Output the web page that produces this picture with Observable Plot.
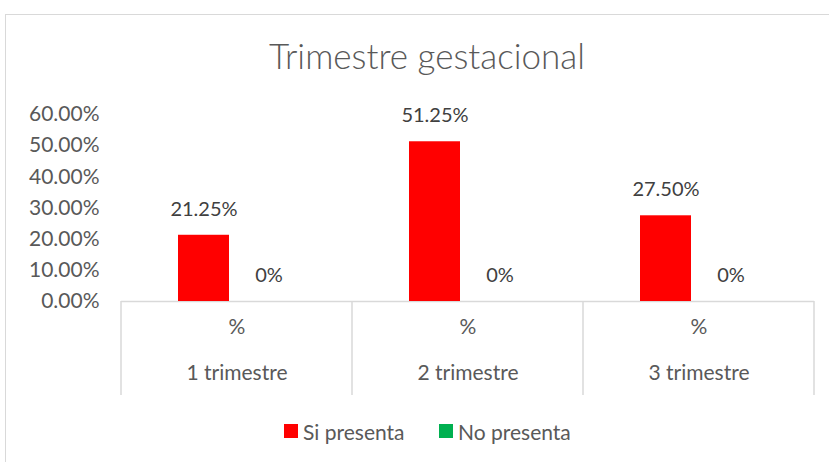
<!DOCTYPE html>
<html>
<head>
<meta charset="utf-8">
<script src="https://cdn.jsdelivr.net/npm/d3@7"></script>
<script src="https://cdn.jsdelivr.net/npm/@observablehq/plot@0.6"></script>
<style>
  html, body { margin: 0; padding: 0; background: #fff; }
  #wrap { position: relative; width: 829px; height: 462px; overflow: hidden; font-family: Lato, "Open Sans", sans-serif; color: #595959; }
  #frame { position: absolute; left: 5px; top: 14px; width: 830px; height: 470px; border: 1px solid #d9d9d9; box-sizing: border-box; }
  #title { position: absolute; left: 0; width: 854px; top: 34px; text-align: center; font-size: 35px; font-weight: 300; color: #595959; white-space: nowrap; }
  #chart { position: absolute; left: 0; top: 95px; }
  #legend { position: absolute; top: 417px; left: 0; width: 829px; height: 28px; font-size: 21px; color: #595959; }
  .item { position: absolute; top: 0; height: 28px; display: flex; align-items: center; white-space: nowrap; }
  .sw { display: inline-block; width: 14px; height: 14px; margin-right: 5px; }
</style>
</head>
<body>
<div id="wrap">
  <div id="frame"></div>
  <div id="title">Trimestre gestacional</div>
  <div id="chart"></div>
  <div id="legend"></div>
</div>
<script>
// ---- data ----
const categories = ["1 trimestre", "2 trimestre", "3 trimestre"];
const seriesNames = ["Si presenta", "No presenta"];
const siPresenta = [21.25, 51.25, 27.50];
const noPresenta = [0, 0, 0];
const subLabel = "%";
const yTicks = [0, 10, 20, 30, 40, 50, 60];
const seriesColors = ["#FF0000", "#00B050"];

const rows = [];
categories.forEach((c, i) => {
  rows.push({cat: c, series: seriesNames[0], value: siPresenta[i]});
  rows.push({cat: c, series: seriesNames[1], value: noPresenta[i]});
});
const fmtLabel = v => v === 0 ? "0%" : v.toFixed(2) + "%";

const plot = Plot.plot({
  width: 829,
  height: 310,
  marginTop: 19,
  marginBottom: 104,
  marginLeft: 120,
  marginRight: 15,
  style: {fontFamily: "Lato, 'Open Sans', sans-serif", fontSize: "21px", color: "#595959", background: "transparent", overflow: "visible"},
  fx: {domain: categories, padding: 0, axis: null},
  x: {domain: seriesNames, paddingInner: 0.212, paddingOuter: 0.858, axis: null},
  y: {domain: [0, 60], ticks: yTicks, tickFormat: d => d.toFixed(2) + "%", tickSize: 0, tickPadding: 22, label: null, line: false},
  color: {domain: seriesNames, range: seriesColors},
  marks: [
    Plot.ruleY([0], {stroke: "#d9d9d9", strokeWidth: 1.5}),
    Plot.barY(rows, {fx: "cat", x: "series", y: "value", fill: "series"}),
    Plot.text(rows, {fx: "cat", x: "series", y: "value", text: d => fmtLabel(d.value), dy: -26, fill: "#404040", fontSize: 20}),
    Plot.text(categories, {fx: d => d, text: () => subLabel, frameAnchor: "bottom", dy: 32, fill: "#595959", fontSize: 21}),
    Plot.text(categories, {fx: d => d, text: d => d, frameAnchor: "bottom", dy: 78, fill: "#595959", fontSize: 21})
  ]
});
document.getElementById("chart").appendChild(plot);

// category dividers drawn with the plot's own fx / y scales
const fx = plot.scale("fx");
const ys = plot.scale("y");
const y0 = ys.apply(0);
const bw = fx.bandwidth;
const edges = categories.map(c => fx.apply(c)).concat([fx.apply(categories[categories.length - 1]) + bw]);
const svg = d3.select(plot.tagName.toLowerCase() === "svg" ? plot : plot.querySelector("svg"));
svg.append("g").selectAll("line").data(edges).join("line")
  .attr("x1", d => d).attr("x2", d => d)
  .attr("y1", y0).attr("y2", y0 + 94)
  .attr("stroke", "#d9d9d9").attr("stroke-width", 1.5);

// legend
const legend = document.getElementById("legend");
const legendX = [284, 439];
seriesNames.forEach((s, i) => {
  const it = document.createElement("div");
  it.className = "item";
  it.style.left = legendX[i] + "px";
  it.innerHTML = `<span class="sw" style="background:${seriesColors[i]}"></span><span>${s}</span>`;
  legend.appendChild(it);
});
</script>
</body>
</html>
